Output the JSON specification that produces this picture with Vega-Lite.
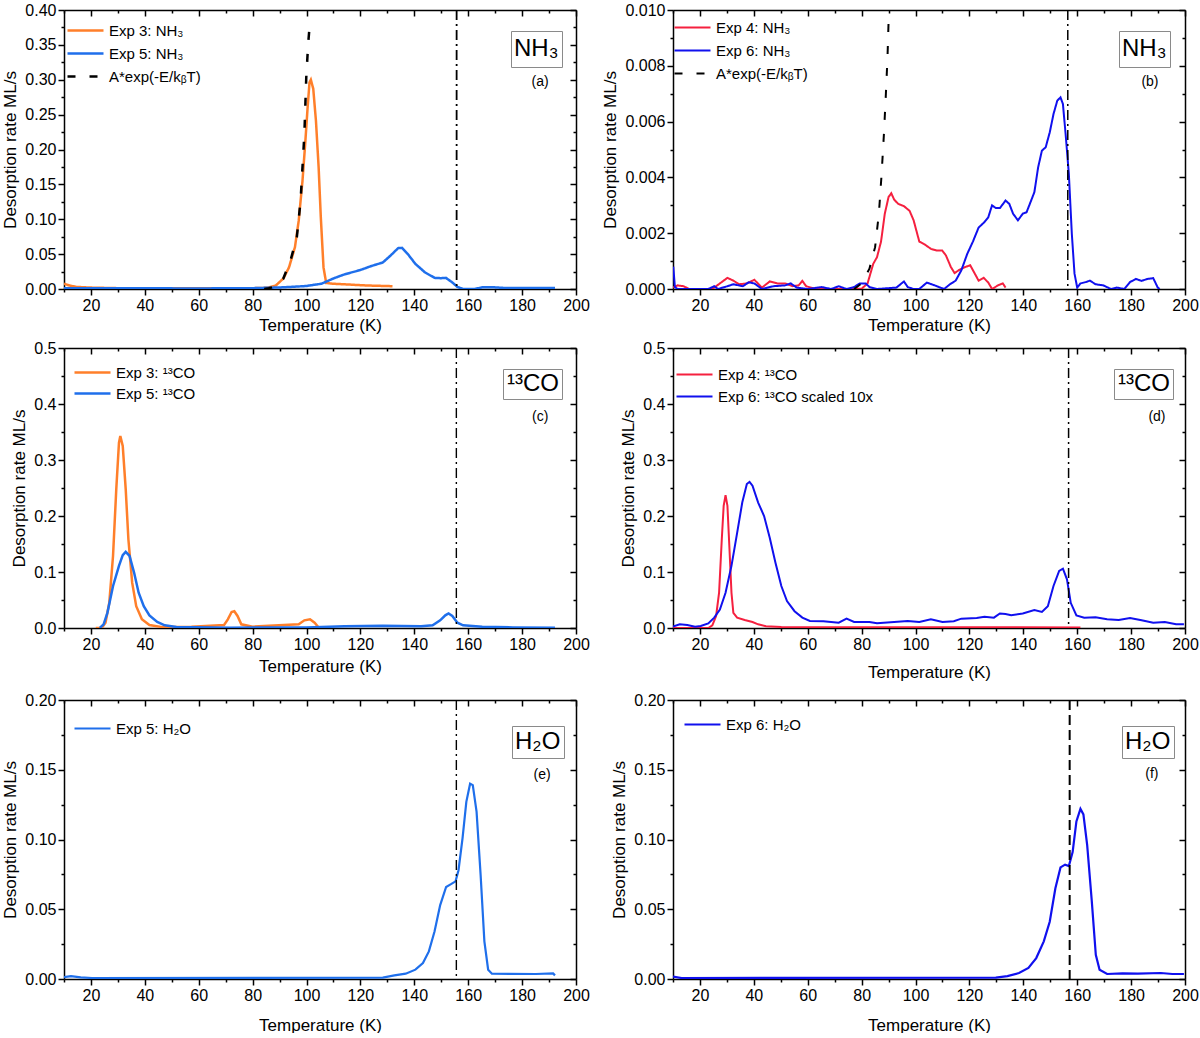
{
  "$schema": "https://vega.github.io/schema/vega-lite/v6.json",
  "padding": {"left": 1, "top": 2, "right": 0, "bottom": 0},
  "config": {"font": "Liberation Sans", "view": {"stroke": null}},
  "datasets": {
    "one": [{"k": 1}],
    "a": [
      {"T": 10, "v": 0.0076, "s": "Exp 3: NH₃"}, {"T": 12, "v": 0.005, "s": "Exp 3: NH₃"}, {"T": 14.7, "v": 0.003, "s": "Exp 3: NH₃"},
      {"T": 20, "v": 0.002, "s": "Exp 3: NH₃"}, {"T": 30, "v": 0.0012, "s": "Exp 3: NH₃"}, {"T": 40, "v": 0.001, "s": "Exp 3: NH₃"},
      {"T": 50, "v": 0.001, "s": "Exp 3: NH₃"}, {"T": 60, "v": 0.001, "s": "Exp 3: NH₃"}, {"T": 70, "v": 0.001, "s": "Exp 3: NH₃"},
      {"T": 80, "v": 0.0012, "s": "Exp 3: NH₃"}, {"T": 84, "v": 0.0015, "s": "Exp 3: NH₃"}, {"T": 85.7, "v": 0.002, "s": "Exp 3: NH₃"},
      {"T": 88.6, "v": 0.005, "s": "Exp 3: NH₃"}, {"T": 91.4, "v": 0.015, "s": "Exp 3: NH₃"}, {"T": 93.5, "v": 0.031, "s": "Exp 3: NH₃"},
      {"T": 95.7, "v": 0.06, "s": "Exp 3: NH₃"}, {"T": 97.1, "v": 0.098, "s": "Exp 3: NH₃"}, {"T": 98.5, "v": 0.155, "s": "Exp 3: NH₃"},
      {"T": 99.5, "v": 0.208, "s": "Exp 3: NH₃"}, {"T": 100.4, "v": 0.26, "s": "Exp 3: NH₃"}, {"T": 101.1, "v": 0.296, "s": "Exp 3: NH₃"},
      {"T": 101.6, "v": 0.3, "s": "Exp 3: NH₃"}, {"T": 102.5, "v": 0.287, "s": "Exp 3: NH₃"}, {"T": 103.5, "v": 0.241, "s": "Exp 3: NH₃"},
      {"T": 104.5, "v": 0.174, "s": "Exp 3: NH₃"}, {"T": 105.3, "v": 0.103, "s": "Exp 3: NH₃"}, {"T": 106.3, "v": 0.031, "s": "Exp 3: NH₃"},
      {"T": 107.3, "v": 0.0086, "s": "Exp 3: NH₃"}, {"T": 110, "v": 0.0075, "s": "Exp 3: NH₃"}, {"T": 114.1, "v": 0.0067, "s": "Exp 3: NH₃"},
      {"T": 122.6, "v": 0.005, "s": "Exp 3: NH₃"}, {"T": 131.9, "v": 0.004, "s": "Exp 3: NH₃"},
      {"T": 10, "v": 0.0012, "s": "Exp 5: NH₃"}, {"T": 20, "v": 0.001, "s": "Exp 5: NH₃"}, {"T": 40, "v": 0.001, "s": "Exp 5: NH₃"},
      {"T": 60, "v": 0.0008, "s": "Exp 5: NH₃"}, {"T": 80, "v": 0.0012, "s": "Exp 5: NH₃"}, {"T": 90, "v": 0.0022, "s": "Exp 5: NH₃"},
      {"T": 94.2, "v": 0.003, "s": "Exp 5: NH₃"}, {"T": 99.9, "v": 0.0043, "s": "Exp 5: NH₃"}, {"T": 105.6, "v": 0.0076, "s": "Exp 5: NH₃"},
      {"T": 109.9, "v": 0.015, "s": "Exp 5: NH₃"}, {"T": 114.1, "v": 0.021, "s": "Exp 5: NH₃"}, {"T": 119.8, "v": 0.027, "s": "Exp 5: NH₃"},
      {"T": 124.1, "v": 0.033, "s": "Exp 5: NH₃"}, {"T": 128.3, "v": 0.038, "s": "Exp 5: NH₃"}, {"T": 131.2, "v": 0.048, "s": "Exp 5: NH₃"},
      {"T": 134, "v": 0.0586, "s": "Exp 5: NH₃"}, {"T": 135.4, "v": 0.059, "s": "Exp 5: NH₃"}, {"T": 137.5, "v": 0.0505, "s": "Exp 5: NH₃"},
      {"T": 140.4, "v": 0.036, "s": "Exp 5: NH₃"}, {"T": 143.9, "v": 0.024, "s": "Exp 5: NH₃"}, {"T": 147.5, "v": 0.016, "s": "Exp 5: NH₃"},
      {"T": 150, "v": 0.0155, "s": "Exp 5: NH₃"}, {"T": 151.7, "v": 0.016, "s": "Exp 5: NH₃"}, {"T": 153.9, "v": 0.01, "s": "Exp 5: NH₃"},
      {"T": 156, "v": 0.003, "s": "Exp 5: NH₃"}, {"T": 158.1, "v": 0, "s": "Exp 5: NH₃"}, {"T": 162.4, "v": 0, "s": "Exp 5: NH₃"},
      {"T": 165.2, "v": 0.0024, "s": "Exp 5: NH₃"}, {"T": 169.5, "v": 0.0024, "s": "Exp 5: NH₃"}, {"T": 173.7, "v": 0.0014, "s": "Exp 5: NH₃"},
      {"T": 192.2, "v": 0.0014, "s": "Exp 5: NH₃"},
      {"T": 84.3, "v": 0, "s": "A*exp(-E/kᵦT)"}, {"T": 86, "v": 0.001, "s": "A*exp(-E/kᵦT)"}, {"T": 88.6, "v": 0.004, "s": "A*exp(-E/kᵦT)"},
      {"T": 91.4, "v": 0.015, "s": "A*exp(-E/kᵦT)"}, {"T": 94.2, "v": 0.043, "s": "A*exp(-E/kᵦT)"}, {"T": 96.4, "v": 0.074, "s": "A*exp(-E/kᵦT)"},
      {"T": 97.8, "v": 0.127, "s": "A*exp(-E/kᵦT)"}, {"T": 99.2, "v": 0.222, "s": "A*exp(-E/kᵦT)"}, {"T": 99.9, "v": 0.303, "s": "A*exp(-E/kᵦT)"},
      {"T": 100.6, "v": 0.351, "s": "A*exp(-E/kᵦT)"}, {"T": 101.1, "v": 0.375, "s": "A*exp(-E/kᵦT)"}
    ],
    "b": [
      {"T": 10, "v": 0.00005, "s": "Exp 4: NH₃"}, {"T": 11.7, "v": 0.00013, "s": "Exp 4: NH₃"}, {"T": 13.9, "v": 0.0001, "s": "Exp 4: NH₃"},
      {"T": 16, "v": 0, "s": "Exp 4: NH₃"}, {"T": 20.3, "v": 0, "s": "Exp 4: NH₃"}, {"T": 24.6, "v": 0, "s": "Exp 4: NH₃"},
      {"T": 27.4, "v": 0.0002, "s": "Exp 4: NH₃"}, {"T": 30.2, "v": 0.0004, "s": "Exp 4: NH₃"}, {"T": 32.4, "v": 0.0003, "s": "Exp 4: NH₃"},
      {"T": 34.5, "v": 0.00017, "s": "Exp 4: NH₃"}, {"T": 37.4, "v": 0.0002, "s": "Exp 4: NH₃"}, {"T": 40.2, "v": 0.00033, "s": "Exp 4: NH₃"},
      {"T": 43, "v": 0.00005, "s": "Exp 4: NH₃"}, {"T": 45.9, "v": 0.00027, "s": "Exp 4: NH₃"}, {"T": 48.7, "v": 0.0002, "s": "Exp 4: NH₃"},
      {"T": 51.6, "v": 0.0002, "s": "Exp 4: NH₃"}, {"T": 54.4, "v": 0.0001, "s": "Exp 4: NH₃"}, {"T": 56.6, "v": 0.00013, "s": "Exp 4: NH₃"},
      {"T": 58, "v": 0.00029, "s": "Exp 4: NH₃"}, {"T": 59.4, "v": 0.0001, "s": "Exp 4: NH₃"}, {"T": 63, "v": 0, "s": "Exp 4: NH₃"},
      {"T": 75.8, "v": 0, "s": "Exp 4: NH₃"}, {"T": 80, "v": 0.00001, "s": "Exp 4: NH₃"}, {"T": 82.2, "v": 0.0002, "s": "Exp 4: NH₃"},
      {"T": 84.3, "v": 0.0009, "s": "Exp 4: NH₃"}, {"T": 85.7, "v": 0.00114, "s": "Exp 4: NH₃"}, {"T": 87.2, "v": 0.0017, "s": "Exp 4: NH₃"},
      {"T": 88.6, "v": 0.0027, "s": "Exp 4: NH₃"}, {"T": 90, "v": 0.0033, "s": "Exp 4: NH₃"}, {"T": 91, "v": 0.00343, "s": "Exp 4: NH₃"},
      {"T": 92.1, "v": 0.0032, "s": "Exp 4: NH₃"}, {"T": 93.6, "v": 0.00305, "s": "Exp 4: NH₃"}, {"T": 95.7, "v": 0.00297, "s": "Exp 4: NH₃"},
      {"T": 97.8, "v": 0.0028, "s": "Exp 4: NH₃"}, {"T": 99.3, "v": 0.00246, "s": "Exp 4: NH₃"}, {"T": 101.4, "v": 0.0017, "s": "Exp 4: NH₃"},
      {"T": 103.5, "v": 0.00159, "s": "Exp 4: NH₃"}, {"T": 105.7, "v": 0.00144, "s": "Exp 4: NH₃"}, {"T": 107.8, "v": 0.00138, "s": "Exp 4: NH₃"},
      {"T": 109.9, "v": 0.00138, "s": "Exp 4: NH₃"}, {"T": 111.3, "v": 0.0012, "s": "Exp 4: NH₃"}, {"T": 113.1, "v": 0.00079, "s": "Exp 4: NH₃"},
      {"T": 114.5, "v": 0.00057, "s": "Exp 4: NH₃"}, {"T": 116.3, "v": 0.00069, "s": "Exp 4: NH₃"}, {"T": 118.5, "v": 0.00079, "s": "Exp 4: NH₃"},
      {"T": 120.3, "v": 0.00085, "s": "Exp 4: NH₃"}, {"T": 122, "v": 0.00055, "s": "Exp 4: NH₃"}, {"T": 123.4, "v": 0.0003, "s": "Exp 4: NH₃"},
      {"T": 125.3, "v": 0.0004, "s": "Exp 4: NH₃"}, {"T": 127, "v": 0.00023, "s": "Exp 4: NH₃"}, {"T": 128.4, "v": 0, "s": "Exp 4: NH₃"},
      {"T": 130.6, "v": 0.00013, "s": "Exp 4: NH₃"}, {"T": 132.4, "v": 0.0002, "s": "Exp 4: NH₃"}, {"T": 133.4, "v": 0.00005, "s": "Exp 4: NH₃"},
      {"T": 10.1, "v": 0.0008, "s": "Exp 6: NH₃"}, {"T": 10.7, "v": 0.00007, "s": "Exp 6: NH₃"}, {"T": 11.7, "v": 0, "s": "Exp 6: NH₃"},
      {"T": 23.1, "v": 0, "s": "Exp 6: NH₃"}, {"T": 25.3, "v": 0.0001, "s": "Exp 6: NH₃"}, {"T": 26.7, "v": 0, "s": "Exp 6: NH₃"},
      {"T": 30.2, "v": 0.0001, "s": "Exp 6: NH₃"}, {"T": 32.4, "v": 0.00017, "s": "Exp 6: NH₃"}, {"T": 35.9, "v": 0.0001, "s": "Exp 6: NH₃"},
      {"T": 38.1, "v": 0.00024, "s": "Exp 6: NH₃"}, {"T": 40.2, "v": 0.0002, "s": "Exp 6: NH₃"}, {"T": 43, "v": 0, "s": "Exp 6: NH₃"},
      {"T": 47.3, "v": 0.0001, "s": "Exp 6: NH₃"}, {"T": 51.6, "v": 0.00013, "s": "Exp 6: NH₃"}, {"T": 53.7, "v": 0.0002, "s": "Exp 6: NH₃"},
      {"T": 55.9, "v": 0.00005, "s": "Exp 6: NH₃"}, {"T": 60.1, "v": 0, "s": "Exp 6: NH₃"}, {"T": 65.1, "v": 0.00007, "s": "Exp 6: NH₃"},
      {"T": 68.7, "v": 0, "s": "Exp 6: NH₃"}, {"T": 71.5, "v": 0.0001, "s": "Exp 6: NH₃"}, {"T": 74.4, "v": 0, "s": "Exp 6: NH₃"},
      {"T": 77.2, "v": 0.00007, "s": "Exp 6: NH₃"}, {"T": 79.3, "v": 0.0002, "s": "Exp 6: NH₃"}, {"T": 81.5, "v": 0.0002, "s": "Exp 6: NH₃"},
      {"T": 82.9, "v": 0.00007, "s": "Exp 6: NH₃"}, {"T": 85.7, "v": 0, "s": "Exp 6: NH₃"}, {"T": 92.9, "v": 0.00005, "s": "Exp 6: NH₃"},
      {"T": 95.7, "v": 0.00027, "s": "Exp 6: NH₃"}, {"T": 97.1, "v": 0.00007, "s": "Exp 6: NH₃"}, {"T": 99.3, "v": 0, "s": "Exp 6: NH₃"},
      {"T": 101.4, "v": 0, "s": "Exp 6: NH₃"}, {"T": 104.2, "v": 0.00023, "s": "Exp 6: NH₃"}, {"T": 107.1, "v": 0.00013, "s": "Exp 6: NH₃"},
      {"T": 110.6, "v": 0, "s": "Exp 6: NH₃"}, {"T": 112.8, "v": 0.00017, "s": "Exp 6: NH₃"}, {"T": 114.9, "v": 0.0003, "s": "Exp 6: NH₃"},
      {"T": 117, "v": 0.00067, "s": "Exp 6: NH₃"}, {"T": 119.2, "v": 0.00126, "s": "Exp 6: NH₃"}, {"T": 121.3, "v": 0.0017, "s": "Exp 6: NH₃"},
      {"T": 123.4, "v": 0.0022, "s": "Exp 6: NH₃"}, {"T": 125.6, "v": 0.0024, "s": "Exp 6: NH₃"}, {"T": 127, "v": 0.00257, "s": "Exp 6: NH₃"},
      {"T": 128.4, "v": 0.003, "s": "Exp 6: NH₃"}, {"T": 129.8, "v": 0.0029, "s": "Exp 6: NH₃"}, {"T": 131.3, "v": 0.0029, "s": "Exp 6: NH₃"},
      {"T": 133.4, "v": 0.00317, "s": "Exp 6: NH₃"}, {"T": 134.8, "v": 0.00305, "s": "Exp 6: NH₃"}, {"T": 136.2, "v": 0.0027, "s": "Exp 6: NH₃"},
      {"T": 138, "v": 0.00246, "s": "Exp 6: NH₃"}, {"T": 139.8, "v": 0.0027, "s": "Exp 6: NH₃"}, {"T": 141.2, "v": 0.00275, "s": "Exp 6: NH₃"},
      {"T": 142.9, "v": 0.00317, "s": "Exp 6: NH₃"}, {"T": 144.1, "v": 0.00347, "s": "Exp 6: NH₃"}, {"T": 145.5, "v": 0.00436, "s": "Exp 6: NH₃"},
      {"T": 146.9, "v": 0.00496, "s": "Exp 6: NH₃"}, {"T": 148.3, "v": 0.00508, "s": "Exp 6: NH₃"}, {"T": 149.8, "v": 0.00561, "s": "Exp 6: NH₃"},
      {"T": 151.2, "v": 0.00627, "s": "Exp 6: NH₃"}, {"T": 152.6, "v": 0.00675, "s": "Exp 6: NH₃"}, {"T": 153.8, "v": 0.00687, "s": "Exp 6: NH₃"},
      {"T": 154.7, "v": 0.00663, "s": "Exp 6: NH₃"}, {"T": 155.7, "v": 0.00555, "s": "Exp 6: NH₃"}, {"T": 156.9, "v": 0.00412, "s": "Exp 6: NH₃"},
      {"T": 158, "v": 0.00198, "s": "Exp 6: NH₃"}, {"T": 159, "v": 0.00055, "s": "Exp 6: NH₃"}, {"T": 160, "v": 0.00005, "s": "Exp 6: NH₃"},
      {"T": 161.2, "v": 0.0002, "s": "Exp 6: NH₃"}, {"T": 163.3, "v": 0.00025, "s": "Exp 6: NH₃"}, {"T": 164.7, "v": 0.0003, "s": "Exp 6: NH₃"},
      {"T": 166.8, "v": 0.00017, "s": "Exp 6: NH₃"}, {"T": 169.7, "v": 0.00013, "s": "Exp 6: NH₃"}, {"T": 172.5, "v": 0, "s": "Exp 6: NH₃"},
      {"T": 174.7, "v": 0.00005, "s": "Exp 6: NH₃"}, {"T": 177.5, "v": 0, "s": "Exp 6: NH₃"}, {"T": 179.6, "v": 0.00025, "s": "Exp 6: NH₃"},
      {"T": 181.8, "v": 0.00036, "s": "Exp 6: NH₃"}, {"T": 183.9, "v": 0.00029, "s": "Exp 6: NH₃"}, {"T": 186, "v": 0.00036, "s": "Exp 6: NH₃"},
      {"T": 188.2, "v": 0.00039, "s": "Exp 6: NH₃"}, {"T": 189.9, "v": 0.00005, "s": "Exp 6: NH₃"}, {"T": 190.6, "v": 0, "s": "Exp 6: NH₃"},
      {"T": 77.2, "v": 0, "s": "A*exp(-E/kᵦT)"}, {"T": 80, "v": 0.0002, "s": "A*exp(-E/kᵦT)"}, {"T": 82.9, "v": 0.00073, "s": "A*exp(-E/kᵦT)"},
      {"T": 85, "v": 0.0015, "s": "A*exp(-E/kᵦT)"}, {"T": 86.4, "v": 0.0027, "s": "A*exp(-E/kᵦT)"}, {"T": 87.4, "v": 0.0041, "s": "A*exp(-E/kᵦT)"},
      {"T": 88.3, "v": 0.0056, "s": "A*exp(-E/kᵦT)"}, {"T": 89, "v": 0.007, "s": "A*exp(-E/kᵦT)"}, {"T": 89.6, "v": 0.0083, "s": "A*exp(-E/kᵦT)"},
      {"T": 90, "v": 0.0096, "s": "A*exp(-E/kᵦT)"}
    ],
    "c": [
      {"T": 21.8, "v": 0, "s": "Exp 3: ¹³CO"}, {"T": 24, "v": 0, "s": "Exp 3: ¹³CO"}, {"T": 25.4, "v": 0.0095, "s": "Exp 3: ¹³CO"},
      {"T": 26.8, "v": 0.045, "s": "Exp 3: ¹³CO"}, {"T": 28.2, "v": 0.129, "s": "Exp 3: ¹³CO"}, {"T": 29.4, "v": 0.248, "s": "Exp 3: ¹³CO"},
      {"T": 30.4, "v": 0.331, "s": "Exp 3: ¹³CO"}, {"T": 30.9, "v": 0.343, "s": "Exp 3: ¹³CO"}, {"T": 31.8, "v": 0.325, "s": "Exp 3: ¹³CO"},
      {"T": 32.9, "v": 0.248, "s": "Exp 3: ¹³CO"}, {"T": 33.9, "v": 0.158, "s": "Exp 3: ¹³CO"}, {"T": 35.3, "v": 0.081, "s": "Exp 3: ¹³CO"},
      {"T": 36.8, "v": 0.039, "s": "Exp 3: ¹³CO"}, {"T": 38.9, "v": 0.0155, "s": "Exp 3: ¹³CO"}, {"T": 41.7, "v": 0.0054, "s": "Exp 3: ¹³CO"},
      {"T": 46, "v": 0.002, "s": "Exp 3: ¹³CO"}, {"T": 57.3, "v": 0.0024, "s": "Exp 3: ¹³CO"}, {"T": 69.4, "v": 0.0054, "s": "Exp 3: ¹³CO"},
      {"T": 70.8, "v": 0.0155, "s": "Exp 3: ¹³CO"}, {"T": 72.2, "v": 0.0286, "s": "Exp 3: ¹³CO"}, {"T": 73.2, "v": 0.03, "s": "Exp 3: ¹³CO"},
      {"T": 74.4, "v": 0.0215, "s": "Exp 3: ¹³CO"}, {"T": 75.8, "v": 0.0066, "s": "Exp 3: ¹³CO"}, {"T": 80, "v": 0.0024, "s": "Exp 3: ¹³CO"},
      {"T": 97.1, "v": 0.0066, "s": "Exp 3: ¹³CO"}, {"T": 99.2, "v": 0.0137, "s": "Exp 3: ¹³CO"}, {"T": 101.3, "v": 0.0155, "s": "Exp 3: ¹³CO"},
      {"T": 103, "v": 0.0095, "s": "Exp 3: ¹³CO"}, {"T": 104.5, "v": 0.001, "s": "Exp 3: ¹³CO"},
      {"T": 23.3, "v": 0, "s": "Exp 5: ¹³CO"}, {"T": 24.7, "v": 0.0066, "s": "Exp 5: ¹³CO"}, {"T": 26.1, "v": 0.027, "s": "Exp 5: ¹³CO"},
      {"T": 28.2, "v": 0.075, "s": "Exp 5: ¹³CO"}, {"T": 30.4, "v": 0.111, "s": "Exp 5: ¹³CO"}, {"T": 31.8, "v": 0.13, "s": "Exp 5: ¹³CO"},
      {"T": 32.9, "v": 0.136, "s": "Exp 5: ¹³CO"}, {"T": 34.3, "v": 0.129, "s": "Exp 5: ¹³CO"}, {"T": 36, "v": 0.099, "s": "Exp 5: ¹³CO"},
      {"T": 37.7, "v": 0.063, "s": "Exp 5: ¹³CO"}, {"T": 39.6, "v": 0.039, "s": "Exp 5: ¹³CO"}, {"T": 41.7, "v": 0.0226, "s": "Exp 5: ¹³CO"},
      {"T": 44.6, "v": 0.0107, "s": "Exp 5: ¹³CO"}, {"T": 47.4, "v": 0.0048, "s": "Exp 5: ¹³CO"}, {"T": 51.7, "v": 0.0018, "s": "Exp 5: ¹³CO"},
      {"T": 71.5, "v": 0.0006, "s": "Exp 5: ¹³CO"}, {"T": 99.9, "v": 0.001, "s": "Exp 5: ¹³CO"}, {"T": 114.1, "v": 0.003, "s": "Exp 5: ¹³CO"},
      {"T": 128.3, "v": 0.004, "s": "Exp 5: ¹³CO"}, {"T": 142.5, "v": 0.003, "s": "Exp 5: ¹³CO"}, {"T": 146.8, "v": 0.005, "s": "Exp 5: ¹³CO"},
      {"T": 149.6, "v": 0.0137, "s": "Exp 5: ¹³CO"}, {"T": 151.5, "v": 0.0226, "s": "Exp 5: ¹³CO"}, {"T": 152.7, "v": 0.026, "s": "Exp 5: ¹³CO"},
      {"T": 154.1, "v": 0.0215, "s": "Exp 5: ¹³CO"}, {"T": 156, "v": 0.0095, "s": "Exp 5: ¹³CO"}, {"T": 158.1, "v": 0.0048, "s": "Exp 5: ¹³CO"},
      {"T": 165.2, "v": 0.0024, "s": "Exp 5: ¹³CO"}, {"T": 176.6, "v": 0.001, "s": "Exp 5: ¹³CO"}, {"T": 192.2, "v": 0.0006, "s": "Exp 5: ¹³CO"}
    ],
    "d": [
      {"T": 10, "v": 0, "s": "Exp 4: ¹³CO"}, {"T": 23.1, "v": 0, "s": "Exp 4: ¹³CO"}, {"T": 24.6, "v": 0.0048, "s": "Exp 4: ¹³CO"},
      {"T": 26, "v": 0.0215, "s": "Exp 4: ¹³CO"}, {"T": 27.1, "v": 0.063, "s": "Exp 4: ¹³CO"}, {"T": 28.1, "v": 0.158, "s": "Exp 4: ¹³CO"},
      {"T": 28.8, "v": 0.218, "s": "Exp 4: ¹³CO"}, {"T": 29.5, "v": 0.237, "s": "Exp 4: ¹³CO"}, {"T": 30.2, "v": 0.218, "s": "Exp 4: ¹³CO"},
      {"T": 30.9, "v": 0.147, "s": "Exp 4: ¹³CO"}, {"T": 31.7, "v": 0.063, "s": "Exp 4: ¹³CO"}, {"T": 32.4, "v": 0.027, "s": "Exp 4: ¹³CO"},
      {"T": 33.8, "v": 0.0185, "s": "Exp 4: ¹³CO"}, {"T": 36.6, "v": 0.0143, "s": "Exp 4: ¹³CO"}, {"T": 39.5, "v": 0.0107, "s": "Exp 4: ¹³CO"},
      {"T": 41.6, "v": 0.0066, "s": "Exp 4: ¹³CO"}, {"T": 44.5, "v": 0.003, "s": "Exp 4: ¹³CO"}, {"T": 50.2, "v": 0.0018, "s": "Exp 4: ¹³CO"},
      {"T": 161.2, "v": 0.001, "s": "Exp 4: ¹³CO"},
      {"T": 10, "v": 0.0024, "s": "Exp 6: ¹³CO scaled 10x"}, {"T": 12.5, "v": 0.0066, "s": "Exp 6: ¹³CO scaled 10x"}, {"T": 15.3, "v": 0.0054, "s": "Exp 6: ¹³CO scaled 10x"},
      {"T": 18.2, "v": 0.0024, "s": "Exp 6: ¹³CO scaled 10x"}, {"T": 20.3, "v": 0.0036, "s": "Exp 6: ¹³CO scaled 10x"}, {"T": 23.1, "v": 0.0083, "s": "Exp 6: ¹³CO scaled 10x"},
      {"T": 25.3, "v": 0.0185, "s": "Exp 6: ¹³CO scaled 10x"}, {"T": 27.4, "v": 0.033, "s": "Exp 6: ¹³CO scaled 10x"}, {"T": 29.5, "v": 0.063, "s": "Exp 6: ¹³CO scaled 10x"},
      {"T": 31.7, "v": 0.111, "s": "Exp 6: ¹³CO scaled 10x"}, {"T": 33.8, "v": 0.17, "s": "Exp 6: ¹³CO scaled 10x"}, {"T": 35.7, "v": 0.224, "s": "Exp 6: ¹³CO scaled 10x"},
      {"T": 37.4, "v": 0.257, "s": "Exp 6: ¹³CO scaled 10x"}, {"T": 38.4, "v": 0.261, "s": "Exp 6: ¹³CO scaled 10x"}, {"T": 39.5, "v": 0.254, "s": "Exp 6: ¹³CO scaled 10x"},
      {"T": 41.6, "v": 0.224, "s": "Exp 6: ¹³CO scaled 10x"}, {"T": 43.8, "v": 0.2, "s": "Exp 6: ¹³CO scaled 10x"}, {"T": 45.9, "v": 0.161, "s": "Exp 6: ¹³CO scaled 10x"},
      {"T": 48, "v": 0.117, "s": "Exp 6: ¹³CO scaled 10x"}, {"T": 50.2, "v": 0.075, "s": "Exp 6: ¹³CO scaled 10x"}, {"T": 52.3, "v": 0.048, "s": "Exp 6: ¹³CO scaled 10x"},
      {"T": 55.1, "v": 0.03, "s": "Exp 6: ¹³CO scaled 10x"}, {"T": 58, "v": 0.0185, "s": "Exp 6: ¹³CO scaled 10x"}, {"T": 60.8, "v": 0.0125, "s": "Exp 6: ¹³CO scaled 10x"},
      {"T": 65.8, "v": 0.012, "s": "Exp 6: ¹³CO scaled 10x"}, {"T": 71.5, "v": 0.0095, "s": "Exp 6: ¹³CO scaled 10x"}, {"T": 74.4, "v": 0.0167, "s": "Exp 6: ¹³CO scaled 10x"},
      {"T": 77.2, "v": 0.0107, "s": "Exp 6: ¹³CO scaled 10x"}, {"T": 82.9, "v": 0.0107, "s": "Exp 6: ¹³CO scaled 10x"}, {"T": 85.7, "v": 0.0083, "s": "Exp 6: ¹³CO scaled 10x"},
      {"T": 97.1, "v": 0.0125, "s": "Exp 6: ¹³CO scaled 10x"}, {"T": 101.4, "v": 0.0107, "s": "Exp 6: ¹³CO scaled 10x"}, {"T": 105.7, "v": 0.0155, "s": "Exp 6: ¹³CO scaled 10x"},
      {"T": 110, "v": 0.0107, "s": "Exp 6: ¹³CO scaled 10x"}, {"T": 114.2, "v": 0.012, "s": "Exp 6: ¹³CO scaled 10x"}, {"T": 117, "v": 0.0167, "s": "Exp 6: ¹³CO scaled 10x"},
      {"T": 122.7, "v": 0.018, "s": "Exp 6: ¹³CO scaled 10x"}, {"T": 125.6, "v": 0.02, "s": "Exp 6: ¹³CO scaled 10x"}, {"T": 129.1, "v": 0.0185, "s": "Exp 6: ¹³CO scaled 10x"},
      {"T": 131.3, "v": 0.026, "s": "Exp 6: ¹³CO scaled 10x"}, {"T": 133.4, "v": 0.025, "s": "Exp 6: ¹³CO scaled 10x"}, {"T": 135.5, "v": 0.0226, "s": "Exp 6: ¹³CO scaled 10x"},
      {"T": 139.8, "v": 0.026, "s": "Exp 6: ¹³CO scaled 10x"}, {"T": 144.1, "v": 0.032, "s": "Exp 6: ¹³CO scaled 10x"}, {"T": 146.9, "v": 0.0286, "s": "Exp 6: ¹³CO scaled 10x"},
      {"T": 149.1, "v": 0.039, "s": "Exp 6: ¹³CO scaled 10x"}, {"T": 151.2, "v": 0.075, "s": "Exp 6: ¹³CO scaled 10x"}, {"T": 153.3, "v": 0.102, "s": "Exp 6: ¹³CO scaled 10x"},
      {"T": 154.7, "v": 0.106, "s": "Exp 6: ¹³CO scaled 10x"}, {"T": 156.2, "v": 0.087, "s": "Exp 6: ¹³CO scaled 10x"}, {"T": 157.6, "v": 0.045, "s": "Exp 6: ¹³CO scaled 10x"},
      {"T": 159.7, "v": 0.0226, "s": "Exp 6: ¹³CO scaled 10x"}, {"T": 162.6, "v": 0.0185, "s": "Exp 6: ¹³CO scaled 10x"}, {"T": 166.8, "v": 0.019, "s": "Exp 6: ¹³CO scaled 10x"},
      {"T": 171.1, "v": 0.0155, "s": "Exp 6: ¹³CO scaled 10x"}, {"T": 175.4, "v": 0.0143, "s": "Exp 6: ¹³CO scaled 10x"}, {"T": 179.6, "v": 0.018, "s": "Exp 6: ¹³CO scaled 10x"},
      {"T": 183.9, "v": 0.0137, "s": "Exp 6: ¹³CO scaled 10x"}, {"T": 188.2, "v": 0.0095, "s": "Exp 6: ¹³CO scaled 10x"}, {"T": 192.5, "v": 0.0107, "s": "Exp 6: ¹³CO scaled 10x"},
      {"T": 196.7, "v": 0.0066, "s": "Exp 6: ¹³CO scaled 10x"}, {"T": 199.6, "v": 0.0066, "s": "Exp 6: ¹³CO scaled 10x"}
    ],
    "e": [
      {"T": 9.8, "v": 0.0012, "s": "Exp 5: H₂O"}, {"T": 12.6, "v": 0.0021, "s": "Exp 5: H₂O"}, {"T": 16.2, "v": 0.0012, "s": "Exp 5: H₂O"},
      {"T": 20.4, "v": 0.0007, "s": "Exp 5: H₂O"}, {"T": 128.3, "v": 0.001, "s": "Exp 5: H₂O"}, {"T": 132.6, "v": 0.0026, "s": "Exp 5: H₂O"},
      {"T": 136.8, "v": 0.0038, "s": "Exp 5: H₂O"}, {"T": 140.4, "v": 0.0067, "s": "Exp 5: H₂O"}, {"T": 143.2, "v": 0.0115, "s": "Exp 5: H₂O"},
      {"T": 145.4, "v": 0.0198, "s": "Exp 5: H₂O"}, {"T": 147.5, "v": 0.034, "s": "Exp 5: H₂O"}, {"T": 149.6, "v": 0.053, "s": "Exp 5: H₂O"},
      {"T": 151.8, "v": 0.066, "s": "Exp 5: H₂O"}, {"T": 153.6, "v": 0.068, "s": "Exp 5: H₂O"}, {"T": 155.3, "v": 0.07, "s": "Exp 5: H₂O"},
      {"T": 156.4, "v": 0.078, "s": "Exp 5: H₂O"}, {"T": 157.9, "v": 0.101, "s": "Exp 5: H₂O"}, {"T": 159.3, "v": 0.127, "s": "Exp 5: H₂O"},
      {"T": 160.7, "v": 0.14, "s": "Exp 5: H₂O"}, {"T": 161.7, "v": 0.139, "s": "Exp 5: H₂O"}, {"T": 163.1, "v": 0.12, "s": "Exp 5: H₂O"},
      {"T": 164.6, "v": 0.0747, "s": "Exp 5: H₂O"}, {"T": 166, "v": 0.027, "s": "Exp 5: H₂O"}, {"T": 167.4, "v": 0.0067, "s": "Exp 5: H₂O"},
      {"T": 168.8, "v": 0.0038, "s": "Exp 5: H₂O"}, {"T": 185.1, "v": 0.0036, "s": "Exp 5: H₂O"}, {"T": 191.5, "v": 0.004, "s": "Exp 5: H₂O"},
      {"T": 192.2, "v": 0.0026, "s": "Exp 5: H₂O"}
    ],
    "f": [
      {"T": 10, "v": 0.0017, "s": "Exp 6: H₂O"}, {"T": 13.2, "v": 0.0007, "s": "Exp 6: H₂O"}, {"T": 129.8, "v": 0.001, "s": "Exp 6: H₂O"},
      {"T": 134.1, "v": 0.0021, "s": "Exp 6: H₂O"}, {"T": 138.4, "v": 0.0043, "s": "Exp 6: H₂O"}, {"T": 141.9, "v": 0.0079, "s": "Exp 6: H₂O"},
      {"T": 144.8, "v": 0.015, "s": "Exp 6: H₂O"}, {"T": 147.6, "v": 0.027, "s": "Exp 6: H₂O"}, {"T": 149.8, "v": 0.041, "s": "Exp 6: H₂O"},
      {"T": 151.9, "v": 0.065, "s": "Exp 6: H₂O"}, {"T": 153.8, "v": 0.08, "s": "Exp 6: H₂O"}, {"T": 155.5, "v": 0.082, "s": "Exp 6: H₂O"},
      {"T": 156.9, "v": 0.081, "s": "Exp 6: H₂O"}, {"T": 158.3, "v": 0.091, "s": "Exp 6: H₂O"}, {"T": 159.7, "v": 0.113, "s": "Exp 6: H₂O"},
      {"T": 161.2, "v": 0.122, "s": "Exp 6: H₂O"}, {"T": 162.3, "v": 0.118, "s": "Exp 6: H₂O"}, {"T": 163.7, "v": 0.096, "s": "Exp 6: H₂O"},
      {"T": 165.4, "v": 0.056, "s": "Exp 6: H₂O"}, {"T": 166.9, "v": 0.0174, "s": "Exp 6: H₂O"}, {"T": 168.3, "v": 0.0067, "s": "Exp 6: H₂O"},
      {"T": 171.1, "v": 0.0036, "s": "Exp 6: H₂O"}, {"T": 176.8, "v": 0.004, "s": "Exp 6: H₂O"}, {"T": 182.5, "v": 0.0038, "s": "Exp 6: H₂O"},
      {"T": 191, "v": 0.0043, "s": "Exp 6: H₂O"}, {"T": 195.3, "v": 0.0036, "s": "Exp 6: H₂O"}, {"T": 199.6, "v": 0.0036, "s": "Exp 6: H₂O"}
    ]
  },
  "vconcat": [
    {
      "hconcat": [
        {
          "width": 512, "height": 279,
          "layer": [
            {
              "data": {"name": "a"},
              "mark": {"type": "line", "strokeWidth": 2.5, "clip": true},
              "encoding": {
                "x": {"field": "T", "type": "quantitative", "scale": {"domain": [10, 200], "nice": false, "zero": false},
                  "axis": {"orient": "bottom", "title": "Temperature (K)", "values": [10,20,30,40,50,60,70,80,90,100,110,120,130,140,150,160,170,180,190,200],
                    "labelExpr": "round(datum.value/10)%2===0 ? datum.label : ''", "tickSize": {"condition": {"test": "round(datum.value/10)%2===1", "value": 3}, "value": 6},
                    "tickColor": "black", "tickWidth": 1.5, "domainColor": "black", "domainWidth": 1.5, "labelFontSize": 16, "labelColor": "black", "labelPadding": 2, "labelFlush": false, "labelOverlap": false,
                    "titleFontSize": 17, "titleFontWeight": "normal", "titleColor": "black", "titlePadding": 4, "grid": false}},
                "y": {"field": "v", "type": "quantitative", "scale": {"domain": [0, 0.4], "nice": false, "zero": false},
                  "axis": {"orient": "left", "title": "Desorption rate ML/s", "format": ".2f", "values": [0,0.025,0.05,0.075,0.1,0.125,0.15,0.175,0.2,0.225,0.25,0.275,0.3,0.325,0.35,0.375,0.4],
                    "labelExpr": "round(datum.value*40)%2===0 ? datum.label : ''", "tickSize": {"condition": {"test": "round(datum.value*40)%2===1", "value": 3}, "value": 6},
                    "tickColor": "black", "tickWidth": 1.5, "domainColor": "black", "domainWidth": 1.5, "labelFontSize": 16, "labelColor": "black", "labelPadding": 2, "labelFlush": false, "labelOverlap": false,
                    "titleFontSize": 17, "titleFontWeight": "normal", "titleColor": "black", "titlePadding": 5, "grid": false}},
                "color": {"field": "s", "type": "nominal",
                  "scale": {"domain": ["Exp 3: NH₃", "Exp 5: NH₃", "A*exp(-E/kᵦT)"], "range": ["#FF7F2A", "#1F6FEB", "#000000"]},
                  "legend": {"title": null, "orient": "none", "legendX": 14, "legendY": 13, "symbolType": "M-3,0H3", "symbolSize": 144, "symbolStrokeWidth": 2.5, "labelFontSize": 15, "labelColor": "black", "labelOffset": 16, "rowPadding": 7, "padding": 0, "labelLimit": 0}},
                "strokeDash": {"field": "s", "type": "nominal",
                  "scale": {"domain": ["Exp 3: NH₃", "Exp 5: NH₃", "A*exp(-E/kᵦT)"], "range": [[1, 0], [1, 0], [8, 14]]},
                  "legend": {"title": null, "orient": "none", "legendX": 14, "legendY": 13, "symbolType": "M-3,0H3", "symbolSize": 144, "symbolStrokeWidth": 2.5, "labelFontSize": 15, "labelColor": "black", "labelOffset": 16, "rowPadding": 7, "padding": 0, "labelLimit": 0}}
              }
            },
            {
              "data": {"name": "one"},
              "mark": {"type": "rule", "color": "black", "strokeWidth": 1.8, "strokeDash": [10, 4, 2, 4]},
              "encoding": {"x": {"datum": 155.7, "type": "quantitative", "scale": {"domain": [10, 200], "nice": false, "zero": false}, "axis": null}}
            },
            {
              "data": {"name": "one"},
              "mark": {"type": "text", "text": "(a)", "fontSize": 14, "color": "black"},
              "encoding": {
                "x": {"datum": 186.7, "type": "quantitative", "scale": {"domain": [10, 200], "nice": false, "zero": false},
                  "axis": {"orient": "top", "title": null, "labels": false, "values": [10,20,30,40,50,60,70,80,90,100,110,120,130,140,150,160,170,180,190,200],
                    "tickSize": {"condition": {"test": "round(datum.value/10)%2===1", "value": -3}, "value": -6}, "tickColor": "black", "tickWidth": 1.5, "domainColor": "black", "domainWidth": 1.5, "grid": false}},
                "y": {"datum": 0.297, "type": "quantitative", "scale": {"domain": [0, 0.4], "nice": false, "zero": false},
                  "axis": {"orient": "right", "title": null, "labels": false, "values": [0,0.025,0.05,0.075,0.1,0.125,0.15,0.175,0.2,0.225,0.25,0.275,0.3,0.325,0.35,0.375,0.4],
                    "tickSize": {"condition": {"test": "round(datum.value*40)%2===1", "value": -3}, "value": -6}, "tickColor": "black", "tickWidth": 1.5, "domainColor": "black", "domainWidth": 1.5, "grid": false}}
              }
            },
            {
              "data": {"name": "one"},
              "mark": {"type": "point", "opacity": 0},
              "encoding": {
                "x": {"datum": 190, "type": "quantitative", "scale": {"domain": [10, 200], "nice": false, "zero": false}, "axis": null},
                "y": {"datum": 0.35, "type": "quantitative", "scale": {"domain": [0, 0.4], "nice": false, "zero": false}, "axis": null},
                "shape": {"datum": "NH₃", "legend": {"title": null, "orient": "none", "legendX": 447, "legendY": 21, "strokeColor": "#8a8a8a", "padding": 3, "labelFontSize": 24, "labelColor": "black", "symbolSize": 900, "symbolOpacity": 0, "symbolStrokeWidth": 0, "labelOffset": -30, "labelLimit": 0}}
              }
            }
          ],
          "resolve": {"axis": {"x": "independent", "y": "independent"}}
        },
        {
          "width": 512, "height": 279,
          "layer": [
            {
              "data": {"name": "b"},
              "mark": {"type": "line", "strokeWidth": 2, "clip": true},
              "encoding": {
                "x": {"field": "T", "type": "quantitative", "scale": {"domain": [10, 200], "nice": false, "zero": false},
                  "axis": {"orient": "bottom", "title": "Temperature (K)", "values": [10,20,30,40,50,60,70,80,90,100,110,120,130,140,150,160,170,180,190,200],
                    "labelExpr": "round(datum.value/10)%2===0 ? datum.label : ''", "tickSize": {"condition": {"test": "round(datum.value/10)%2===1", "value": 3}, "value": 6},
                    "tickColor": "black", "tickWidth": 1.5, "domainColor": "black", "domainWidth": 1.5, "labelFontSize": 16, "labelColor": "black", "labelPadding": 2, "labelFlush": false, "labelOverlap": false,
                    "titleFontSize": 17, "titleFontWeight": "normal", "titleColor": "black", "titlePadding": 4, "grid": false}},
                "y": {"field": "v", "type": "quantitative", "scale": {"domain": [0, 0.01], "nice": false, "zero": false},
                  "axis": {"orient": "left", "title": "Desorption rate ML/s", "format": ".3f", "values": [0,0.001,0.002,0.003,0.004,0.005,0.006,0.007,0.008,0.009,0.01],
                    "labelExpr": "round(datum.value*1000)%2===0 ? datum.label : ''", "tickSize": {"condition": {"test": "round(datum.value*1000)%2===1", "value": 3}, "value": 6},
                    "tickColor": "black", "tickWidth": 1.5, "domainColor": "black", "domainWidth": 1.5, "labelFontSize": 16, "labelColor": "black", "labelPadding": 2, "labelFlush": false, "labelOverlap": false,
                    "titleFontSize": 17, "titleFontWeight": "normal", "titleColor": "black", "titlePadding": 5, "grid": false}},
                "color": {"field": "s", "type": "nominal",
                  "scale": {"domain": ["Exp 4: NH₃", "Exp 6: NH₃", "A*exp(-E/kᵦT)"], "range": ["#F5203F", "#1010EE", "#000000"]},
                  "legend": {"title": null, "orient": "none", "legendX": 12, "legendY": 10, "symbolType": "M-3,0H3", "symbolSize": 144, "symbolStrokeWidth": 2.2, "labelFontSize": 15, "labelColor": "black", "labelOffset": 16, "rowPadding": 7, "padding": 0, "labelLimit": 0}},
                "strokeDash": {"field": "s", "type": "nominal",
                  "scale": {"domain": ["Exp 4: NH₃", "Exp 6: NH₃", "A*exp(-E/kᵦT)"], "range": [[1, 0], [1, 0], [8, 14]]},
                  "legend": {"title": null, "orient": "none", "legendX": 12, "legendY": 10, "symbolType": "M-3,0H3", "symbolSize": 144, "symbolStrokeWidth": 2.2, "labelFontSize": 15, "labelColor": "black", "labelOffset": 16, "rowPadding": 7, "padding": 0, "labelLimit": 0}}
              }
            },
            {
              "data": {"name": "one"},
              "mark": {"type": "rule", "color": "black", "strokeWidth": 1.5, "strokeDash": [10, 4, 2, 4]},
              "encoding": {"x": {"datum": 156.5, "type": "quantitative", "scale": {"domain": [10, 200], "nice": false, "zero": false}, "axis": null}}
            },
            {
              "data": {"name": "one"},
              "mark": {"type": "text", "text": "(b)", "fontSize": 14, "color": "black"},
              "encoding": {
                "x": {"datum": 187, "type": "quantitative", "scale": {"domain": [10, 200], "nice": false, "zero": false},
                  "axis": {"orient": "top", "title": null, "labels": false, "values": [10,20,30,40,50,60,70,80,90,100,110,120,130,140,150,160,170,180,190,200],
                    "tickSize": {"condition": {"test": "round(datum.value/10)%2===1", "value": -3}, "value": -6}, "tickColor": "black", "tickWidth": 1.5, "domainColor": "black", "domainWidth": 1.5, "grid": false}},
                "y": {"datum": 0.00742, "type": "quantitative", "scale": {"domain": [0, 0.01], "nice": false, "zero": false},
                  "axis": {"orient": "right", "title": null, "labels": false, "values": [0,0.001,0.002,0.003,0.004,0.005,0.006,0.007,0.008,0.009,0.01],
                    "tickSize": {"condition": {"test": "round(datum.value*1000)%2===1", "value": -3}, "value": -6}, "tickColor": "black", "tickWidth": 1.5, "domainColor": "black", "domainWidth": 1.5, "grid": false}}
              }
            },
            {
              "data": {"name": "one"},
              "mark": {"type": "point", "opacity": 0},
              "encoding": {
                "x": {"datum": 190, "type": "quantitative", "scale": {"domain": [10, 200], "nice": false, "zero": false}, "axis": null},
                "y": {"datum": 0.009, "type": "quantitative", "scale": {"domain": [0, 0.01], "nice": false, "zero": false}, "axis": null},
                "shape": {"datum": "NH₃", "legend": {"title": null, "orient": "none", "legendX": 446, "legendY": 21, "strokeColor": "#8a8a8a", "padding": 3, "labelFontSize": 24, "labelColor": "black", "symbolSize": 900, "symbolOpacity": 0, "symbolStrokeWidth": 0, "labelOffset": -30, "labelLimit": 0}}
              }
            }
          ],
          "resolve": {"axis": {"x": "independent", "y": "independent"}}
        }
      ],
      "spacing": 97, "bounds": "flush",
      "resolve": {"scale": {"color": "independent", "strokeDash": "independent", "shape": "independent"}}
    },
    {
      "vconcat": [
        {
          "hconcat": [
            {
              "width": 512, "height": 280,
              "layer": [
                {
                  "data": {"name": "c"},
                  "mark": {"type": "line", "strokeWidth": 2.5, "clip": true},
                  "encoding": {
                    "x": {"field": "T", "type": "quantitative", "scale": {"domain": [10, 200], "nice": false, "zero": false},
                      "axis": {"orient": "bottom", "title": "Temperature (K)", "values": [10,20,30,40,50,60,70,80,90,100,110,120,130,140,150,160,170,180,190,200],
                        "labelExpr": "round(datum.value/10)%2===0 ? datum.label : ''", "tickSize": {"condition": {"test": "round(datum.value/10)%2===1", "value": 3}, "value": 6},
                        "tickColor": "black", "tickWidth": 1.5, "domainColor": "black", "domainWidth": 1.5, "labelFontSize": 16, "labelColor": "black", "labelPadding": 2, "labelFlush": false, "labelOverlap": false,
                        "titleFontSize": 17, "titleFontWeight": "normal", "titleColor": "black", "titlePadding": 6, "grid": false}},
                    "y": {"field": "v", "type": "quantitative", "scale": {"domain": [0, 0.5], "nice": false, "zero": false},
                      "axis": {"orient": "left", "title": "Desorption rate ML/s", "format": ".1f", "values": [0,0.05,0.1,0.15,0.2,0.25,0.3,0.35,0.4,0.45,0.5],
                        "labelExpr": "round(datum.value*20)%2===0 ? datum.label : ''", "tickSize": {"condition": {"test": "round(datum.value*20)%2===1", "value": 3}, "value": 6},
                        "tickColor": "black", "tickWidth": 1.5, "domainColor": "black", "domainWidth": 1.5, "labelFontSize": 16, "labelColor": "black", "labelPadding": 2, "labelFlush": false, "labelOverlap": false,
                        "titleFontSize": 17, "titleFontWeight": "normal", "titleColor": "black", "titlePadding": 5, "grid": false}},
                    "color": {"field": "s", "type": "nominal",
                      "scale": {"domain": ["Exp 3: ¹³CO", "Exp 5: ¹³CO"], "range": ["#FF7F2A", "#1F6FEB"]},
                      "legend": {"title": null, "orient": "none", "legendX": 21, "legendY": 17, "symbolType": "M-3,0H3", "symbolSize": 144, "symbolStrokeWidth": 2.5, "labelFontSize": 15, "labelColor": "black", "labelOffset": 16, "rowPadding": 5, "padding": 0, "labelLimit": 0}}
                  }
                },
                {
                  "data": {"name": "one"},
                  "mark": {"type": "rule", "color": "black", "strokeWidth": 1.4, "strokeDash": [10, 4, 2, 4]},
                  "encoding": {"x": {"datum": 155.6, "type": "quantitative", "scale": {"domain": [10, 200], "nice": false, "zero": false}, "axis": null}}
                },
                {
                  "data": {"name": "one"},
                  "mark": {"type": "text", "text": "(c)", "fontSize": 14, "color": "black"},
                  "encoding": {
                    "x": {"datum": 186.7, "type": "quantitative", "scale": {"domain": [10, 200], "nice": false, "zero": false},
                      "axis": {"orient": "top", "title": null, "labels": false, "values": [10,20,30,40,50,60,70,80,90,100,110,120,130,140,150,160,170,180,190,200],
                        "tickSize": {"condition": {"test": "round(datum.value/10)%2===1", "value": -3}, "value": -6}, "tickColor": "black", "tickWidth": 1.5, "domainColor": "black", "domainWidth": 1.5, "grid": false}},
                    "y": {"datum": 0.377, "type": "quantitative", "scale": {"domain": [0, 0.5], "nice": false, "zero": false},
                      "axis": {"orient": "right", "title": null, "labels": false, "values": [0,0.05,0.1,0.15,0.2,0.25,0.3,0.35,0.4,0.45,0.5],
                        "tickSize": {"condition": {"test": "round(datum.value*20)%2===1", "value": -3}, "value": -6}, "tickColor": "black", "tickWidth": 1.5, "domainColor": "black", "domainWidth": 1.5, "grid": false}}
                  }
                },
                {
                  "data": {"name": "one"},
                  "mark": {"type": "point", "opacity": 0},
                  "encoding": {
                    "x": {"datum": 190, "type": "quantitative", "scale": {"domain": [10, 200], "nice": false, "zero": false}, "axis": null},
                    "y": {"datum": 0.45, "type": "quantitative", "scale": {"domain": [0, 0.5], "nice": false, "zero": false}, "axis": null},
                    "shape": {"datum": "¹³CO", "legend": {"title": null, "orient": "none", "legendX": 439, "legendY": 21, "strokeColor": "#8a8a8a", "padding": 3, "labelFontSize": 24, "labelColor": "black", "symbolSize": 529, "symbolOpacity": 0, "symbolStrokeWidth": 0, "labelOffset": -23, "labelLimit": 0}}
                  }
                }
              ],
              "resolve": {"axis": {"x": "independent", "y": "independent"}}
            },
            {
              "width": 512, "height": 280,
              "layer": [
                {
                  "data": {"name": "d"},
                  "mark": {"type": "line", "strokeWidth": 2, "clip": true},
                  "encoding": {
                    "x": {"field": "T", "type": "quantitative", "scale": {"domain": [10, 200], "nice": false, "zero": false},
                      "axis": {"orient": "bottom", "title": "Temperature (K)", "values": [10,20,30,40,50,60,70,80,90,100,110,120,130,140,150,160,170,180,190,200],
                        "labelExpr": "round(datum.value/10)%2===0 ? datum.label : ''", "tickSize": {"condition": {"test": "round(datum.value/10)%2===1", "value": 3}, "value": 6},
                        "tickColor": "black", "tickWidth": 1.5, "domainColor": "black", "domainWidth": 1.5, "labelFontSize": 16, "labelColor": "black", "labelPadding": 2, "labelFlush": false, "labelOverlap": false,
                        "titleFontSize": 17, "titleFontWeight": "normal", "titleColor": "black", "titlePadding": 12, "grid": false}},
                    "y": {"field": "v", "type": "quantitative", "scale": {"domain": [0, 0.5], "nice": false, "zero": false},
                      "axis": {"orient": "left", "title": "Desorption rate ML/s", "format": ".1f", "values": [0,0.05,0.1,0.15,0.2,0.25,0.3,0.35,0.4,0.45,0.5],
                        "labelExpr": "round(datum.value*20)%2===0 ? datum.label : ''", "tickSize": {"condition": {"test": "round(datum.value*20)%2===1", "value": 3}, "value": 6},
                        "tickColor": "black", "tickWidth": 1.5, "domainColor": "black", "domainWidth": 1.5, "labelFontSize": 16, "labelColor": "black", "labelPadding": 2, "labelFlush": false, "labelOverlap": false,
                        "titleFontSize": 17, "titleFontWeight": "normal", "titleColor": "black", "titlePadding": 5, "grid": false}},
                    "color": {"field": "s", "type": "nominal",
                      "scale": {"domain": ["Exp 4: ¹³CO", "Exp 6: ¹³CO scaled 10x"], "range": ["#F5203F", "#1010EE"]},
                      "legend": {"title": null, "orient": "none", "legendX": 14, "legendY": 19, "symbolType": "M-3,0H3", "symbolSize": 144, "symbolStrokeWidth": 2.2, "labelFontSize": 15, "labelColor": "black", "labelOffset": 16, "rowPadding": 6, "padding": 0, "labelLimit": 0}}
                  }
                },
                {
                  "data": {"name": "one"},
                  "mark": {"type": "rule", "color": "black", "strokeWidth": 1.5, "strokeDash": [10, 4, 2, 4]},
                  "encoding": {"x": {"datum": 156.8, "type": "quantitative", "scale": {"domain": [10, 200], "nice": false, "zero": false}, "axis": null}}
                },
                {
                  "data": {"name": "one"},
                  "mark": {"type": "text", "text": "(d)", "fontSize": 14, "color": "black"},
                  "encoding": {
                    "x": {"datum": 189.6, "type": "quantitative", "scale": {"domain": [10, 200], "nice": false, "zero": false},
                      "axis": {"orient": "top", "title": null, "labels": false, "values": [10,20,30,40,50,60,70,80,90,100,110,120,130,140,150,160,170,180,190,200],
                        "tickSize": {"condition": {"test": "round(datum.value/10)%2===1", "value": -3}, "value": -6}, "tickColor": "black", "tickWidth": 1.5, "domainColor": "black", "domainWidth": 1.5, "grid": false}},
                    "y": {"datum": 0.377, "type": "quantitative", "scale": {"domain": [0, 0.5], "nice": false, "zero": false},
                      "axis": {"orient": "right", "title": null, "labels": false, "values": [0,0.05,0.1,0.15,0.2,0.25,0.3,0.35,0.4,0.45,0.5],
                        "tickSize": {"condition": {"test": "round(datum.value*20)%2===1", "value": -3}, "value": -6}, "tickColor": "black", "tickWidth": 1.5, "domainColor": "black", "domainWidth": 1.5, "grid": false}}
                  }
                },
                {
                  "data": {"name": "one"},
                  "mark": {"type": "point", "opacity": 0},
                  "encoding": {
                    "x": {"datum": 190, "type": "quantitative", "scale": {"domain": [10, 200], "nice": false, "zero": false}, "axis": null},
                    "y": {"datum": 0.45, "type": "quantitative", "scale": {"domain": [0, 0.5], "nice": false, "zero": false}, "axis": null},
                    "shape": {"datum": "¹³CO", "legend": {"title": null, "orient": "none", "legendX": 441, "legendY": 21, "strokeColor": "#8a8a8a", "padding": 3, "labelFontSize": 24, "labelColor": "black", "symbolSize": 529, "symbolOpacity": 0, "symbolStrokeWidth": 0, "labelOffset": -23, "labelLimit": 0}}
                  }
                }
              ],
              "resolve": {"axis": {"x": "independent", "y": "independent"}}
            }
          ],
          "spacing": 97, "bounds": "flush",
          "resolve": {"scale": {"color": "independent", "strokeDash": "independent", "shape": "independent"}}
        },
        {
          "hconcat": [
            {
              "width": 512, "height": 279,
              "layer": [
                {
                  "data": {"name": "e"},
                  "mark": {"type": "line", "strokeWidth": 2.2, "clip": true},
                  "encoding": {
                    "x": {"field": "T", "type": "quantitative", "scale": {"domain": [10, 200], "nice": false, "zero": false},
                      "axis": {"orient": "bottom", "title": "Temperature (K)", "values": [10,20,30,40,50,60,70,80,90,100,110,120,130,140,150,160,170,180,190,200],
                        "labelExpr": "round(datum.value/10)%2===0 ? datum.label : ''", "tickSize": {"condition": {"test": "round(datum.value/10)%2===1", "value": 3}, "value": 6},
                        "tickColor": "black", "tickWidth": 1.5, "domainColor": "black", "domainWidth": 1.5, "labelFontSize": 16, "labelColor": "black", "labelPadding": 2, "labelFlush": false, "labelOverlap": false,
                        "titleFontSize": 17, "titleFontWeight": "normal", "titleColor": "black", "titlePadding": 14, "grid": false}},
                    "y": {"field": "v", "type": "quantitative", "scale": {"domain": [0, 0.2], "nice": false, "zero": false},
                      "axis": {"orient": "left", "title": "Desorption rate ML/s", "format": ".2f", "values": [0,0.025,0.05,0.075,0.1,0.125,0.15,0.175,0.2],
                        "labelExpr": "round(datum.value*40)%2===0 ? datum.label : ''", "tickSize": {"condition": {"test": "round(datum.value*40)%2===1", "value": 3}, "value": 6},
                        "tickColor": "black", "tickWidth": 1.5, "domainColor": "black", "domainWidth": 1.5, "labelFontSize": 16, "labelColor": "black", "labelPadding": 2, "labelFlush": false, "labelOverlap": false,
                        "titleFontSize": 17, "titleFontWeight": "normal", "titleColor": "black", "titlePadding": 5, "grid": false}},
                    "color": {"field": "s", "type": "nominal",
                      "scale": {"domain": ["Exp 5: H₂O"], "range": ["#1F6FEB"]},
                      "legend": {"title": null, "orient": "none", "legendX": 21, "legendY": 21, "symbolType": "M-3,0H3", "symbolSize": 144, "symbolStrokeWidth": 2.2, "labelFontSize": 15, "labelColor": "black", "labelOffset": 16, "rowPadding": 7, "padding": 0, "labelLimit": 0}}
                  }
                },
                {
                  "data": {"name": "one"},
                  "mark": {"type": "rule", "color": "black", "strokeWidth": 1.4, "strokeDash": [10, 4, 2, 4]},
                  "encoding": {"x": {"datum": 155.6, "type": "quantitative", "scale": {"domain": [10, 200], "nice": false, "zero": false}, "axis": null}}
                },
                {
                  "data": {"name": "one"},
                  "mark": {"type": "text", "text": "(e)", "fontSize": 14, "color": "black"},
                  "encoding": {
                    "x": {"datum": 187.4, "type": "quantitative", "scale": {"domain": [10, 200], "nice": false, "zero": false},
                      "axis": {"orient": "top", "title": null, "labels": false, "values": [10,20,30,40,50,60,70,80,90,100,110,120,130,140,150,160,170,180,190,200],
                        "tickSize": {"condition": {"test": "round(datum.value/10)%2===1", "value": -3}, "value": -6}, "tickColor": "black", "tickWidth": 1.5, "domainColor": "black", "domainWidth": 1.5, "grid": false}},
                    "y": {"datum": 0.146, "type": "quantitative", "scale": {"domain": [0, 0.2], "nice": false, "zero": false},
                      "axis": {"orient": "right", "title": null, "labels": false, "values": [0,0.025,0.05,0.075,0.1,0.125,0.15,0.175,0.2],
                        "tickSize": {"condition": {"test": "round(datum.value*40)%2===1", "value": -3}, "value": -6}, "tickColor": "black", "tickWidth": 1.5, "domainColor": "black", "domainWidth": 1.5, "grid": false}}
                  }
                },
                {
                  "data": {"name": "one"},
                  "mark": {"type": "point", "opacity": 0},
                  "encoding": {
                    "x": {"datum": 190, "type": "quantitative", "scale": {"domain": [10, 200], "nice": false, "zero": false}, "axis": null},
                    "y": {"datum": 0.18, "type": "quantitative", "scale": {"domain": [0, 0.2], "nice": false, "zero": false}, "axis": null},
                    "shape": {"datum": "H₂O", "legend": {"title": null, "orient": "none", "legendX": 448, "legendY": 26, "strokeColor": "#8a8a8a", "padding": 3, "labelFontSize": 24, "labelColor": "black", "symbolSize": 676, "symbolOpacity": 0, "symbolStrokeWidth": 0, "labelOffset": -26, "labelLimit": 0}}
                  }
                }
              ],
              "resolve": {"axis": {"x": "independent", "y": "independent"}}
            },
            {
              "width": 512, "height": 279,
              "layer": [
                {
                  "data": {"name": "f"},
                  "mark": {"type": "line", "strokeWidth": 2.2, "clip": true},
                  "encoding": {
                    "x": {"field": "T", "type": "quantitative", "scale": {"domain": [10, 200], "nice": false, "zero": false},
                      "axis": {"orient": "bottom", "title": "Temperature (K)", "values": [10,20,30,40,50,60,70,80,90,100,110,120,130,140,150,160,170,180,190,200],
                        "labelExpr": "round(datum.value/10)%2===0 ? datum.label : ''", "tickSize": {"condition": {"test": "round(datum.value/10)%2===1", "value": 3}, "value": 6},
                        "tickColor": "black", "tickWidth": 1.5, "domainColor": "black", "domainWidth": 1.5, "labelFontSize": 16, "labelColor": "black", "labelPadding": 2, "labelFlush": false, "labelOverlap": false,
                        "titleFontSize": 17, "titleFontWeight": "normal", "titleColor": "black", "titlePadding": 14, "grid": false}},
                    "y": {"field": "v", "type": "quantitative", "scale": {"domain": [0, 0.2], "nice": false, "zero": false},
                      "axis": {"orient": "left", "title": "Desorption rate ML/s", "format": ".2f", "values": [0,0.025,0.05,0.075,0.1,0.125,0.15,0.175,0.2],
                        "labelExpr": "round(datum.value*40)%2===0 ? datum.label : ''", "tickSize": {"condition": {"test": "round(datum.value*40)%2===1", "value": 3}, "value": 6},
                        "tickColor": "black", "tickWidth": 1.5, "domainColor": "black", "domainWidth": 1.5, "labelFontSize": 16, "labelColor": "black", "labelPadding": 2, "labelFlush": false, "labelOverlap": false,
                        "titleFontSize": 17, "titleFontWeight": "normal", "titleColor": "black", "titlePadding": 5, "grid": false}},
                    "color": {"field": "s", "type": "nominal",
                      "scale": {"domain": ["Exp 6: H₂O"], "range": ["#1010EE"]},
                      "legend": {"title": null, "orient": "none", "legendX": 22, "legendY": 17, "symbolType": "M-3,0H3", "symbolSize": 144, "symbolStrokeWidth": 2.2, "labelFontSize": 15, "labelColor": "black", "labelOffset": 16, "rowPadding": 7, "padding": 0, "labelLimit": 0}}
                  }
                },
                {
                  "data": {"name": "one"},
                  "mark": {"type": "rule", "color": "black", "strokeWidth": 2, "strokeDash": [10, 5]},
                  "encoding": {"x": {"datum": 157.2, "type": "quantitative", "scale": {"domain": [10, 200], "nice": false, "zero": false}, "axis": null}}
                },
                {
                  "data": {"name": "one"},
                  "mark": {"type": "text", "text": "(f)", "fontSize": 14, "color": "black"},
                  "encoding": {
                    "x": {"datum": 187.7, "type": "quantitative", "scale": {"domain": [10, 200], "nice": false, "zero": false},
                      "axis": {"orient": "top", "title": null, "labels": false, "values": [10,20,30,40,50,60,70,80,90,100,110,120,130,140,150,160,170,180,190,200],
                        "tickSize": {"condition": {"test": "round(datum.value/10)%2===1", "value": -3}, "value": -6}, "tickColor": "black", "tickWidth": 1.5, "domainColor": "black", "domainWidth": 1.5, "grid": false}},
                    "y": {"datum": 0.147, "type": "quantitative", "scale": {"domain": [0, 0.2], "nice": false, "zero": false},
                      "axis": {"orient": "right", "title": null, "labels": false, "values": [0,0.025,0.05,0.075,0.1,0.125,0.15,0.175,0.2],
                        "tickSize": {"condition": {"test": "round(datum.value*40)%2===1", "value": -3}, "value": -6}, "tickColor": "black", "tickWidth": 1.5, "domainColor": "black", "domainWidth": 1.5, "grid": false}}
                  }
                },
                {
                  "data": {"name": "one"},
                  "mark": {"type": "point", "opacity": 0},
                  "encoding": {
                    "x": {"datum": 190, "type": "quantitative", "scale": {"domain": [10, 200], "nice": false, "zero": false}, "axis": null},
                    "y": {"datum": 0.18, "type": "quantitative", "scale": {"domain": [0, 0.2], "nice": false, "zero": false}, "axis": null},
                    "shape": {"datum": "H₂O", "legend": {"title": null, "orient": "none", "legendX": 449, "legendY": 26, "strokeColor": "#8a8a8a", "padding": 3, "labelFontSize": 24, "labelColor": "black", "symbolSize": 676, "symbolOpacity": 0, "symbolStrokeWidth": 0, "labelOffset": -26, "labelLimit": 0}}
                  }
                }
              ],
              "resolve": {"axis": {"x": "independent", "y": "independent"}}
            }
          ],
          "spacing": 97, "bounds": "flush",
          "resolve": {"scale": {"color": "independent", "strokeDash": "independent", "shape": "independent"}}
        }
      ],
      "spacing": 12,
      "resolve": {"scale": {"color": "independent", "strokeDash": "independent", "shape": "independent"}}
    }
  ],
  "spacing": 7,
  "resolve": {"scale": {"color": "independent", "strokeDash": "independent", "shape": "independent"}}
}
